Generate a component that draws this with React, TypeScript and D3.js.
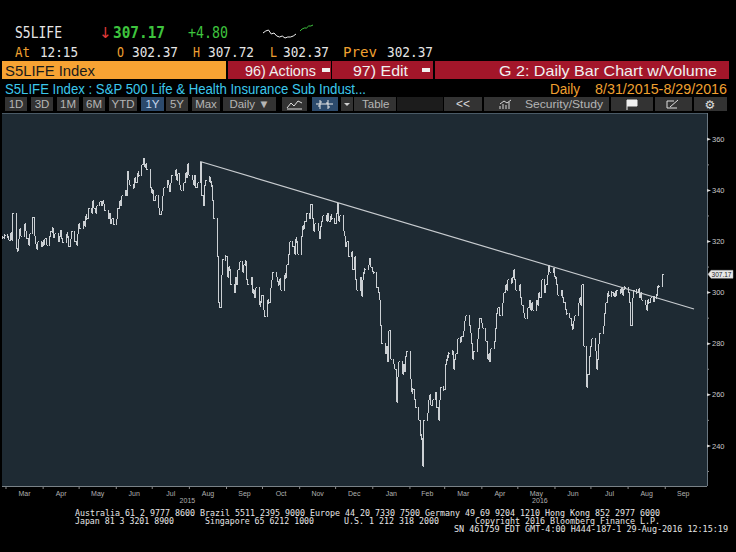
import React from "react"
import * as d3 from "d3"

// daily closes, one array per month (weekdays only)
const feb15 = [321.5, 322.5]
const mar15 = [322, 320.5, 323.5, 320.5, 331, 317, 316.5, 321, 325, 322, 327, 324, 321, 318.5, 323, 329.5, 322, 319, 317, 320, 318, 320]
const apr15 = [319, 321, 318.5, 322, 324, 325, 321.5, 323, 320, 322, 324.5, 321, 319.5, 323, 322, 318, 321, 324, 320, 318.5, 323, 327]
const may15 = [325, 328, 326, 330, 329, 333, 331, 336, 333, 331, 334, 335.5, 334, 336, 334.5, 332, 329, 331, 327, 329, 326.5]
const jun15 = [329, 333, 336, 334, 338, 340, 338, 347.5, 344, 342, 341, 345, 343, 347, 346, 350, 352.5, 349, 350.5, 348, 341, 339]
const jul15 = [340, 336, 338, 333, 330.5, 332, 338, 341, 344, 342, 339.5, 343, 346, 348, 344, 346.5, 342, 340, 343, 347, 345, 350.5, 346]
const aug15 = [344, 342, 346, 341, 343, 351, 338, 334, 342, 344, 345, 343, 342, 336, 329, 314, 296, 294, 307, 313, 314]
const sep15 = [306, 310, 309, 303, 300, 306, 303, 309, 312, 308, 311, 312, 305, 303, 306, 300, 301, 298, 302, 295, 296, 299]
const oct15 = [293, 290.5, 297, 296, 302, 305, 308, 306, 304, 303, 305.5, 301, 307, 306, 311, 315, 320, 318, 315, 321, 320, 315]
const nov15 = [322, 326, 325, 328, 331, 329, 334.5, 329, 324, 327, 324, 321, 326, 328, 330, 328, 331, 328, 330, 329, 327]
const dec15 = [331, 335, 328, 330, 324, 322, 318, 320, 314, 316, 309, 314, 305, 301, 306, 298.5, 305, 308, 309, 311, 313.5, 310, 308]
const jan16 = [308, 302, 300, 297, 287, 280, 276, 279, 273, 285, 274, 272, 270, 257, 267, 273, 268, 272, 269, 275, 277]
const feb16 = [266, 261, 262, 258, 255, 250, 244, 243, 232, 250, 253, 258, 260, 256, 258, 261, 255, 250, 258, 263, 262]
const mar16 = [272, 274, 275, 276, 277, 270, 274, 276, 282, 281, 283, 285, 289, 291, 287, 284, 280, 274, 277, 282, 286, 290, 288]
const apr16 = [286, 281, 274, 276, 273, 278, 281, 286, 292, 294, 291, 296, 300, 303, 301, 305, 304, 306, 309, 305, 301]
const may16 = [303, 298, 295, 292, 290, 294, 297, 293, 296, 293, 297, 295, 300, 298, 305, 300, 303, 307, 310.5, 308, 309.5, 306]
const jun16 = [306, 303, 299, 301, 298, 296, 293, 292, 290, 287, 286, 289, 291, 296, 298, 295, 303, 279, 263, 268, 275, 279]
const jul16 = [282, 277, 270, 274, 280, 284, 287, 292, 296, 300, 299, 300, 298.5, 300, 299, 301, 300, 302, 299, 301.5, 302]
const aug16 = [300, 296, 287, 298, 301, 300, 301.5, 298, 300, 297, 295, 293, 297, 296, 298, 297, 298, 299, 302.4, 302.37, 307.17]

const months = [
  [2015, 1, 26, feb15], [2015, 2, 1, mar15], [2015, 3, 1, apr15], [2015, 4, 1, may15],
  [2015, 5, 1, jun15], [2015, 6, 1, jul15], [2015, 7, 1, aug15], [2015, 8, 1, sep15],
  [2015, 9, 1, oct15], [2015, 10, 1, nov15], [2015, 11, 1, dec15], [2016, 0, 1, jan16],
  [2016, 1, 1, feb16], [2016, 2, 1, mar16], [2016, 3, 1, apr16], [2016, 4, 1, may16],
  [2016, 5, 1, jun16], [2016, 6, 1, jul16], [2016, 7, 1, aug16],
]

const trend = [
  { date: new Date(2015, 7, 10), value: 351.3 },
  { date: new Date(2016, 8, 25), value: 293.6 },
]

const yTicks = [240, 260, 280, 300, 320, 340, 360]
const yMinor = [230, 250, 270, 290, 310, 330, 350]
const monthNames = ["Jan", "Feb", "Mar", "Apr", "May", "Jun", "Jul", "Aug", "Sep", "Oct", "Nov", "Dec"]

const sparkWhite = [33, 31, 30, 34, 33, 36, 37, 36, 38, 37, 37, 36, 34]
const sparkGreen = [31, 29, 28, 28, 26, 26, 25]

const toolbar = [
  ["1D", 5, 27], ["3D", 31, 53], ["1M", 57, 79], ["6M", 83, 105], ["YTD", 109, 137],
  ["1Y", 141, 164], ["5Y", 166, 188], ["Max", 192, 220], ["Daily \u25BC", 223, 276],
]

// build the daily series
const series: { date: Date; close: number }[] = []
months.forEach(([yr, mo, start, vals]: any) => {
  let k = 0
  const last = new Date(yr, mo + 1, 0).getDate()
  for (let d = start; d <= last && k < vals.length; d++) {
    const dt = new Date(yr, mo, d)
    const wd = dt.getDay()
    if (wd === 0 || wd === 6) continue
    series.push({ date: dt, close: vals[k++] })
  }
})

const PL = 2, PR = 707, PT = 113, PB = 486

const mono = "'DejaVu Sans Mono', 'Liberation Mono', monospace"
const sans = "'Liberation Sans', Arial, sans-serif"
const ORANGE = "#f0a030"
const WHITE = "#e6e6e6"
const GREEN = "#3ec43e"

function T({ x, y, w, size = 13, fill = WHITE, fam = mono, weight = "normal", anchor = "start", children }: any) {
  return (
    <text x={x} y={y} fontSize={size} fill={fill} fontFamily={fam} fontWeight={weight}
      textAnchor={anchor} textLength={w} lengthAdjust={w ? "spacingAndGlyphs" : undefined}>
      {children}
    </text>
  )
}

export default function App() {
  const x = d3.scaleTime().domain([new Date(2015, 1, 24), new Date(2016, 9, 5)]).range([0, 706])
  const y = d3.scaleLinear().domain([224.7, 370.3]).range([485, 113])

  const sx = d3.scaleLinear().domain([0, sparkWhite.length - 1]).range([263, 296])
  const gx = d3.scaleLinear().domain([0, sparkGreen.length - 1]).range([300, 313])
  const spark = d3.line<number>().x((d, i) => sx(i)).y(d => d)
  const sparkG = d3.line<number>().x((d, i) => gx(i)).y(d => d)

  const monthStarts = d3.timeMonth.range(new Date(2015, 2, 1), new Date(2016, 9, 1))
  const years = [2015, 2016].map(yr => {
    const a = Math.max(PL, x(new Date(yr, 0, 1)))
    const b = Math.min(PR, x(new Date(yr + 1, 0, 1)))
    return { yr, cx: (a + b) / 2 }
  })
  const lastY = y(307.17)

  return (
    <svg width={736} height={552} style={{ position: "absolute", left: 0, top: 0, background: "#000" }}>
      <rect width={736} height={552} fill="#000" />

      {/* header rows */}
      <T x={15} y={38} w={47} size={15}>S5LIFE</T>
      <T x={99} y={38} size={15} fill="#e03a3a" fam="'DejaVu Sans'">{"\u2193"}</T>
      <T x={113} y={38} w={52} size={15} fill={GREEN} weight="bold">307.17</T>
      <T x={188} y={38} w={40} size={15} fill={GREEN}>+4.80</T>
      <path d={spark(sparkWhite) || ""} fill="none" stroke="#f0f0f0" strokeWidth={1} />
      <path d={sparkG(sparkGreen) || ""} fill="none" stroke="#3ec43e" strokeWidth={1} />

      <T x={15} y={57} w={15} size={14} fill={ORANGE}>At</T>
      <T x={40} y={57} w={38} size={14}>12:15</T>
      <T x={117} y={57} w={7} size={14} fill={ORANGE}>O</T>
      <T x={132} y={57} w={46} size={14}>302.37</T>
      <T x={193} y={57} w={7} size={14} fill={ORANGE}>H</T>
      <T x={208} y={57} w={46} size={14}>307.72</T>
      <T x={270} y={57} w={7} size={14} fill={ORANGE}>L</T>
      <T x={283} y={57} w={46} size={14}>302.37</T>
      <T x={343} y={57} w={34} size={14} fill={ORANGE}>Prev</T>
      <T x={387} y={57} w={46} size={14}>302.37</T>

      {/* title bars */}
      <rect x={2} y={61} width={224} height={18} fill="#f7a333" />
      <T x={5} y={76} w={90} size={15} fill="#1a1a1a" fam={sans}>S5LIFE Index</T>
      <rect x={228} y={61} width={103} height={18} fill="#a3162a" />
      <T x={245} y={76} w={71} size={15} fam={sans} fill="#f0f0f0">{"96) Actions"}</T>
      <rect x={322} y={68} width={8} height={4} fill="#f0f0f0" />
      <rect x={332} y={61} width={101} height={18} fill="#a3162a" />
      <T x={353} y={76} w={55} size={15} fam={sans} fill="#f0f0f0">{"97) Edit"}</T>
      <rect x={422} y={68} width={8} height={4} fill="#f0f0f0" />
      <rect x={435} y={61} width={294} height={18} fill="#a3162a" />
      <T x={499} y={76} w={218} size={15} fam={sans} fill="#f0f0f0">G 2: Daily Bar Chart w/Volume</T>

      <T x={5} y={94} w={361} size={14} fam={sans} fill="#3cc8ec">S5LIFE Index : S&amp;P 500 Life &amp; Health Insurance Sub Indust...</T>
      <T x={550} y={94} w={30} size={14} fam={sans} fill={ORANGE}>Daily</T>
      <T x={595} y={94} w={132} size={14} fam={sans} fill={ORANGE}>8/31/2015-8/29/2016</T>

      {/* toolbar */}
      {toolbar.map(([lab, a, b]: any) => (
        <g key={lab}>
          <rect x={a} y={97} width={b - a} height={14} fill={lab === "1Y" ? "#2c4a6c" : "#333"} />
          <text x={(a + b) / 2} y={108} fontSize={11.5} fontFamily={sans} fill={lab === "1Y" ? "#c6d8ec" : "#b5b5b5"} textAnchor="middle">{lab}</text>
        </g>
      ))}
      <rect x={282} y={97} width={25} height={14} fill="#333" />
      <path d="M287,108 L291,103 L294,106 L298,101 L302,103" fill="none" stroke="#e0e0e0" />
      <path d="M287,109 L302,109" stroke="#e0e0e0" />
      <rect x={312} y={97} width={26} height={14} fill="#2c4a6c" />
      <path d="M320,100 V109 M318,106 H320 M320,102 H322 M328,100 V109 M326,103 H328 M328,107 H330 M316,104 H333" stroke="#e8e8e8" fill="none" />
      <rect x={341} y={97} width={12} height={14} fill="#333" />
      <path d="M344,103 L350,103 L347,106 Z" fill="#d0d0d0" />
      <rect x={354} y={97} width={42} height={14} fill="#333" />
      <text x={362} y={108} fontSize={11.5} fontFamily={sans} fill="#b5b5b5">Table</text>
      <rect x={397} y={97} width={46} height={14} fill="#1c1c1c" />
      <rect x={444} y={97} width={38} height={14} fill="#333" />
      <text x={463} y={108} fontSize={12} fontFamily={sans} fill="#d8d8d8" textAnchor="middle">{"<<"}</text>
      <rect x={484} y={97} width={125} height={14} fill="#333" />
      <path d="M500,109 V106 M503,109 V104 M506,109 V105 M509,109 V102 M500,104 L504,101 L507,103 L511,100" stroke="#d8d8d8" fill="none" />
      <T x={525} y={108} w={78} size={11.5} fam={sans} fill="#b5b5b5">Security/Study</T>
      <rect x={611} y={97} width={42} height={14} fill="#333" />
      <path d="M627,110 V100 M627,100 H637 V106 H627" stroke="#f0f0f0" fill="#f0f0f0" />
      <rect x={655} y={97} width={37} height={14} fill="#333" />
      <path d="M667,101 H674 M667,101 V108 H677 M670,107 L678,100" stroke="#e0e0e0" fill="none" />
      <rect x={694} y={97} width={33} height={14} fill="#333" />
      <text x={710} y={109} fontSize={12} fontFamily="'DejaVu Sans'" fill="#e0e0e0" textAnchor="middle">{"\u2699"}</text>

      {/* plot panel */}
      <rect x={PL} y={PT} width={PR - PL} height={PB - PT} fill="#1e2a33" />
      <line x1={PL} x2={PR} y1={PT + 0.5} y2={PT + 0.5} stroke="#4a5a66" />
      <line x1={PR + 0.5} x2={PR + 0.5} y1={PT} y2={PB} stroke="#6a7680" />
      <line x1={PL} x2={PR} y1={PB + 0.5} y2={PB + 0.5} stroke="#7a8288" />

      {/* bars: open at previous close, ticks for open and close */}
      <g stroke="#ccd0d4" strokeWidth={1} shapeRendering="crispEdges">
        {series.map((d, i) => {
          const prev = i > 0 ? series[i - 1].close : d.close
          const px = Math.round(x(d.date)) + 0.5
          let top = y(Math.max(prev, d.close))
          let bot = y(Math.min(prev, d.close))
          if (bot - top < 3) { top -= 1.5; bot += 1.5 }
          return (
            <g key={i}>
              <line x1={px} x2={px} y1={top} y2={bot} />
              <line x1={px - 1} x2={px} y1={y(prev)} y2={y(prev)} />
              <line x1={px} x2={px + 1} y1={y(d.close)} y2={y(d.close)} />
            </g>
          )
        })}
      </g>

      {/* trend line */}
      <line x1={x(trend[0].date)} y1={y(trend[0].value)} x2={x(trend[1].date)} y2={y(trend[1].value)}
        stroke="#c8ccd0" strokeWidth={1.2} />

      {/* right axis */}
      {yTicks.map(t => (
        <g key={t}>
          <path d={`M${PR},${y(t) - 1.5} L${PR + 4},${y(t)} L${PR},${y(t) + 1.5} Z`} fill="#d8d8d8" />
          <text x={PR + 5} y={y(t) + 2.6} fontSize={7.5} fontFamily={sans} fill="#c8c8c8">{t}</text>
        </g>
      ))}
      {yMinor.map(t => (
        <line key={t} x1={PR + 1} x2={PR + 2} y1={y(t)} y2={y(t)} stroke="#8a8a8a" />
      ))}
      <path d={`M${PR + 1},${lastY} L${PR + 4},${lastY - 4} H${PR + 26} V${lastY + 4} H${PR + 4} Z`} fill="#e8e8e8" stroke="#aaa" strokeWidth={0.5} />
      <text x={PR + 4.5} y={lastY + 2.4} fontSize={6.5} fontFamily={sans} fill="#222" textLength={20} lengthAdjust="spacingAndGlyphs">307.17</text>

      {/* bottom axis */}
      {monthStarts.map((m, i) => {
        const nx = d3.timeMonth.offset(m, 1)
        const cx = (x(m) + x(nx)) / 2
        return (
          <g key={i}>
            <line x1={x(m)} x2={x(m)} y1={PB + 1} y2={PB + 3} stroke="#8a8a8a" />
            <text x={cx} y={496} fontSize={7} fontFamily={sans} fill="#b0b0b0" textAnchor="middle">{monthNames[m.getMonth()]}</text>
          </g>
        )
      })}
      {years.map(d => (
        <text key={d.yr} x={d.cx} y={503} fontSize={7} fontFamily={sans} fill="#b0b0b0" textAnchor="middle">{d.yr}</text>
      ))}

      {/* footer */}
      <T x={75} y={516} w={585} size={8}>Australia 61 2 9777 8600 Brazil 5511 2395 9000 Europe 44 20 7330 7500 Germany 49 69 9204 1210 Hong Kong 852 2977 6000</T>
      <T x={75} y={524} w={99} size={8}>Japan 81 3 3201 8900</T>
      <T x={205} y={524} w={109} size={8}>Singapore 65 6212 1000</T>
      <T x={344} y={524} w={95} size={8}>U.S. 1 212 318 2000</T>
      <T x={475} y={524} w={185} size={8}>Copyright 2016 Bloomberg Finance L.P.</T>
      <T x={454} y={532} w={274} size={8}>SN 461759 EDT  GMT-4:00 H444-187-1 29-Aug-2016 12:15:19</T>
    </svg>
  )
}
